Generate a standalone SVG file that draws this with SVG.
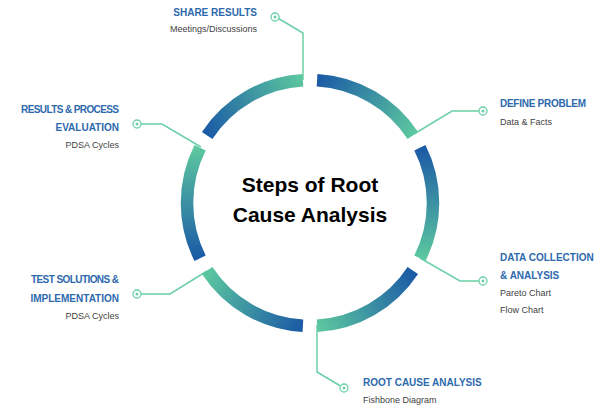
<svg xmlns="http://www.w3.org/2000/svg" width="601" height="406" viewBox="0 0 601 406">
<style>
.seg{fill:none;stroke-width:12.5;stroke-linecap:butt}
.conn{fill:none;stroke:#6ccfa7;stroke-width:1.5}
.mk{fill:#fff;stroke:#6ccfa7;stroke-width:1.3}
.dot{fill:#6ccfa7}
.h{font-family:"Liberation Sans",Arial,sans-serif;font-weight:bold;font-size:10px;fill:#2d69ad}
.s{font-family:"Liberation Sans",Arial,sans-serif;font-size:9px;fill:#3f3f3f}
.title{font-family:"Liberation Sans",Arial,sans-serif;font-weight:bold;font-size:21px;fill:#000;text-anchor:middle}
.end{text-anchor:end}
</style>
<defs>
<linearGradient id="g1" gradientUnits="userSpaceOnUse" x1="317.08" y1="80.21" x2="412.8" y2="135.47"><stop offset="0" stop-color="#1b5aa6"/><stop offset="1" stop-color="#5cc79f"/></linearGradient>
<linearGradient id="g2" gradientUnits="userSpaceOnUse" x1="419.89" y1="147.74" x2="419.89" y2="258.26"><stop offset="0" stop-color="#1b5aa6"/><stop offset="1" stop-color="#5cc79f"/></linearGradient>
<linearGradient id="g3" gradientUnits="userSpaceOnUse" x1="412.8" y1="270.53" x2="317.08" y2="325.79"><stop offset="0" stop-color="#1b5aa6"/><stop offset="1" stop-color="#5cc79f"/></linearGradient>
<linearGradient id="g4" gradientUnits="userSpaceOnUse" x1="302.92" y1="325.79" x2="207.2" y2="270.53"><stop offset="0" stop-color="#1b5aa6"/><stop offset="1" stop-color="#5cc79f"/></linearGradient>
<linearGradient id="g5" gradientUnits="userSpaceOnUse" x1="200.11" y1="258.26" x2="200.11" y2="147.74"><stop offset="0" stop-color="#1b5aa6"/><stop offset="1" stop-color="#5cc79f"/></linearGradient>
<linearGradient id="g6" gradientUnits="userSpaceOnUse" x1="207.2" y1="135.47" x2="302.92" y2="80.21"><stop offset="0" stop-color="#1b5aa6"/><stop offset="1" stop-color="#5cc79f"/></linearGradient>
</defs>
<g id="connectors">
<path class="conn" d="M303,80 V33 L278.5,18.5"/>
<path class="conn" d="M479,111 H452 L414,134"/>
<path class="conn" d="M479,281 H460 L420,258"/>
<path class="conn" d="M317,325 V372 L340.5,386"/>
<path class="conn" d="M141,294 H170 L207,271"/>
<path class="conn" d="M141,124 H162 L201,147"/>
</g>
<g id="ring">
<path class="seg" stroke="url(#g1)" d="M317.08,80.21 A123,123 0 0 1 412.8,135.47"/>
<path class="seg" stroke="url(#g2)" d="M419.89,147.74 A123,123 0 0 1 419.89,258.26"/>
<path class="seg" stroke="url(#g3)" d="M412.8,270.53 A123,123 0 0 1 317.08,325.79"/>
<path class="seg" stroke="url(#g4)" d="M302.92,325.79 A123,123 0 0 1 207.2,270.53"/>
<path class="seg" stroke="url(#g5)" d="M200.11,258.26 A123,123 0 0 1 200.11,147.74"/>
<path class="seg" stroke="url(#g6)" d="M207.2,135.47 A123,123 0 0 1 302.92,80.21"/>
</g>
<g id="center">
<text class="title" x="310" y="192">Steps of Root</text>
<text class="title" x="310" y="222">Cause Analysis</text>
</g>
<g id="share-results">
<circle class="mk" cx="275" cy="17" r="4"/><circle class="dot" cx="275" cy="17" r="1.5"/>
<text class="h end" x="257" y="16">SHARE RESULTS</text>
<text class="s end" x="257" y="32">Meetings/Discussions</text>
</g>
<g id="define-problem">
<circle class="mk" cx="483" cy="111" r="4"/><circle class="dot" cx="483" cy="111" r="1.5"/>
<text class="h" x="500" y="107" textLength="86">DEFINE PROBLEM</text>
<text class="s" x="500" y="125">Data &amp; Facts</text>
</g>
<g id="data-collection">
<circle class="mk" cx="483" cy="281" r="4"/><circle class="dot" cx="483" cy="281" r="1.5"/>
<text class="h" x="500" y="261">DATA COLLECTION</text>
<text class="h" x="500" y="279">&amp; ANALYSIS</text>
<text class="s" x="500" y="296">Pareto Chart</text>
<text class="s" x="500" y="313">Flow Chart</text>
</g>
<g id="root-cause">
<circle class="mk" cx="344" cy="388" r="4"/><circle class="dot" cx="344" cy="388" r="1.5"/>
<text class="h" x="363" y="386">ROOT CAUSE ANALYSIS</text>
<text class="s" x="363" y="403">Fishbone Diagram</text>
</g>
<g id="test-solutions">
<circle class="mk" cx="137" cy="294" r="4"/><circle class="dot" cx="137" cy="294" r="1.5"/>
<text class="h end" x="119" y="283" textLength="88">TEST SOLUTIONS &amp;</text>
<text class="h end" x="119" y="302">IMPLEMENTATION</text>
<text class="s end" x="119" y="319">PDSA Cycles</text>
</g>
<g id="results-evaluation">
<circle class="mk" cx="137" cy="124" r="4"/><circle class="dot" cx="137" cy="124" r="1.5"/>
<text class="h end" x="119" y="113" textLength="98">RESULTS &amp; PROCESS</text>
<text class="h end" x="119" y="131">EVALUATION</text>
<text class="s end" x="119" y="148">PDSA Cycles</text>
</g>
</svg>
